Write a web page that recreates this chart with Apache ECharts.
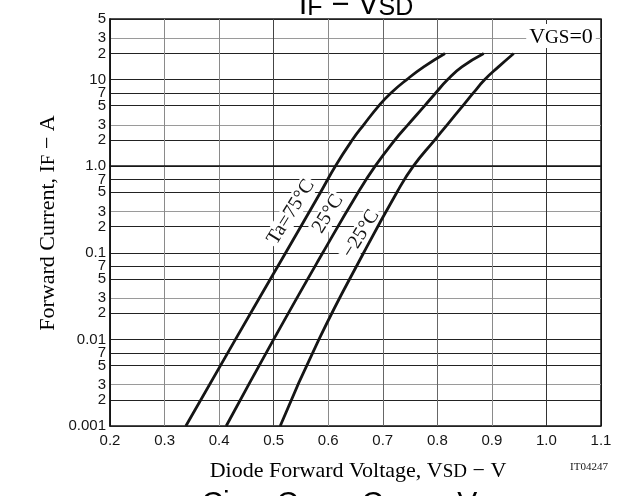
<!DOCTYPE html>
<html>
<head>
<meta charset="utf-8">
<script src="https://cdn.jsdelivr.net/npm/echarts@6/dist/echarts.min.js"></script>
<style>
  html, body { margin: 0; padding: 0; background: #fff; }
  #chart { width: 628px; height: 496px; }
</style>
</head>
<body>
<div id="chart"></div>
<script>
// axis ticks
const xMin = 0.2, xMax = 1.1, xStep = 0.1;
const yTicks = [0.001, 0.002, 0.003, 0.005, 0.007, 0.01, 0.02, 0.03, 0.05, 0.07,
                0.1, 0.2, 0.3, 0.5, 0.7, 1, 2, 3, 5, 7, 10, 20, 30, 50];
const yTickLabels = ['0.001', '2', '3', '5', '7', '0.01', '2', '3', '5', '7',
                     '0.1', '2', '3', '5', '7', '1.0', '2', '3', '5', '7', '10', '2', '3', '5'];

// curves: forward current (A) and forward voltage (V)
const currentI = [0.001, 0.01, 0.1, 0.5, 1, 2, 3, 5, 7, 10, 14, 20];
const ta75V  = [0.339, 0.430, 0.522, 0.586, 0.613, 0.644, 0.665, 0.693, 0.715, 0.744, 0.775, 0.814];
const ta25V  = [0.413, 0.500, 0.590, 0.655, 0.686, 0.722, 0.746, 0.777, 0.797, 0.819, 0.845, 0.885];
const taM25V = [0.512, 0.583, 0.665, 0.726, 0.756, 0.795, 0.818, 0.847, 0.866, 0.887, 0.912, 0.940];

const SERIF = '"Liberation Serif", "Times New Roman", serif';
const SANS = '"Liberation Sans", Arial, sans-serif';
const INK = '#151515';

function toLog(vs, is) {
  return vs.map((v, i) => [v, Math.log10(is[i])]);
}

function yLabel(val) {
  for (let i = 0; i < yTicks.length; i++) {
    if (Math.abs(Math.log10(yTicks[i]) - val) < 1e-6) return yTickLabels[i];
  }
  return '';
}

// rich styles for subscripts
function richSet(family, size, subSize, lh, subLh) {
  return {
    m: { fontFamily: family, fontSize: size, lineHeight: lh, verticalAlign: 'bottom', color: INK },
    s: { fontFamily: family, fontSize: subSize, lineHeight: subLh, verticalAlign: 'bottom', color: INK }
  };
}

const chart = echarts.init(document.getElementById('chart'));

const curveStyle = { color: INK, width: 2.8 };

chart.setOption({
  animation: false,
  grid: {
    left: 110, right: 27, top: 19, bottom: 70,
    show: true, borderColor: INK, borderWidth: 1.5, backgroundColor: '#fff'
  },
  xAxis: {
    type: 'value',
    min: xMin, max: xMax, interval: xStep,
    axisLine: { show: true, lineStyle: { color: INK, width: 1.5 } },
    axisTick: { show: false },
    axisLabel: {
      margin: 7, fontFamily: SANS, fontSize: 15, color: INK,
      formatter: v => v.toFixed(1)
    },
    splitLine: {
      show: true,
      lineStyle: {
        width: 1,
        color: [INK, '#8a8a8a', '#8a8a8a', '#444', '#8a8a8a', '#666', '#666', '#8a8a8a', '#333', INK]
      }
    }
  },
  yAxis: {
    type: 'value',
    min: Math.log10(yTicks[0]),
    max: Math.log10(yTicks[yTicks.length - 1]),
    axisLine: { show: true, lineStyle: { color: INK, width: 1.5 } },
    axisTick: { show: false, customValues: yTicks.map(v => Math.log10(v)) },
    axisLabel: {
      margin: 4, fontFamily: SANS, fontSize: 15, color: INK,
      customValues: yTicks.map(v => Math.log10(v)),
      formatter: yLabel
    },
    splitLine: {
      show: true,
      lineStyle: { width: 1, color: ['#222', '#222', '#9a9a9a', '#222', '#222'] }
    }
  },
  series: [
    { name: 'Ta=75°C', type: 'line', data: toLog(ta75V, currentI), showSymbol: false, smooth: 0.5, lineStyle: curveStyle, z: 3 },
    { name: '25°C', type: 'line', data: toLog(ta25V, currentI), showSymbol: false, smooth: 0.5, lineStyle: curveStyle, z: 3 },
    { name: '-25°C', type: 'line', data: toLog(taM25V, currentI), showSymbol: false, smooth: 0.5, lineStyle: curveStyle, z: 3 }
  ],
  graphic: [
    // cropped title of this chart
    {
      type: 'text', x: 356, y: 21, z: 5,
      style: {
        text: '{m|I}{s|F}{m| − V}{s|SD}', align: 'center', verticalAlign: 'bottom',
        rich: richSet(SANS, 31, 25, 36, 26)
      }
    },
    // cropped title of the next chart
    {
      type: 'text', x: 356, y: 519, z: 5,
      style: {
        text: '{m|Ciss, Coss, Crss − V}{s|DS}', align: 'center', verticalAlign: 'bottom',
        rich: richSet(SANS, 30, 24, 36, 28)
      }
    },
    // x axis title
    {
      type: 'text', x: 358, y: 482, z: 5,
      style: {
        text: '{m|Diode Forward Voltage, V}{s|SD}{m| − V}', align: 'center', verticalAlign: 'bottom',
        rich: richSet(SERIF, 22, 19, 26, 14)
      }
    },
    {
      type: 'text', x: 589, y: 467, z: 5,
      style: { text: 'IT04247', align: 'center', verticalAlign: 'middle', fontFamily: SERIF, fontSize: 11, fill: INK }
    },
    // y axis title
    {
      type: 'text', x: 59, y: 223, rotation: Math.PI / 2, z: 5,
      style: {
        text: '{m|Forward Current, I}{s|F}{m| − A}', align: 'center', verticalAlign: 'bottom',
        rich: richSet(SERIF, 22, 19, 26, 14)
      }
    },
    // condition
    {
      type: 'text', x: 561, y: 48, z: 1,
      style: {
        text: '{m|V}{s|GS}{m|=0}', align: 'center', verticalAlign: 'bottom',
        backgroundColor: '#fff', padding: [0, 3, 0, 3],
        rich: richSet(SERIF, 22, 19, 24, 12)
      }
    },
    // curve labels
    {
      type: 'text', x: 291, y: 212, rotation: 58 * Math.PI / 180, z: 1,
      style: { text: 'Ta=75°C', align: 'center', verticalAlign: 'middle', fontFamily: SERIF, fontSize: 20, fill: INK, backgroundColor: '#fff', padding: [0, 2, 0, 2] }
    },
    {
      type: 'text', x: 328, y: 214, rotation: 58 * Math.PI / 180, z: 1,
      style: { text: '25°C', align: 'center', verticalAlign: 'middle', fontFamily: SERIF, fontSize: 20, fill: INK, backgroundColor: '#fff', padding: [0, 2, 0, 2] }
    },
    {
      type: 'text', x: 361, y: 234, rotation: 58 * Math.PI / 180, z: 1,
      style: { text: '−25°C', align: 'center', verticalAlign: 'middle', fontFamily: SERIF, fontSize: 20, fill: INK, backgroundColor: '#fff', padding: [0, 2, 0, 2] }
    }
  ]
});
</script>
</body>
</html>
